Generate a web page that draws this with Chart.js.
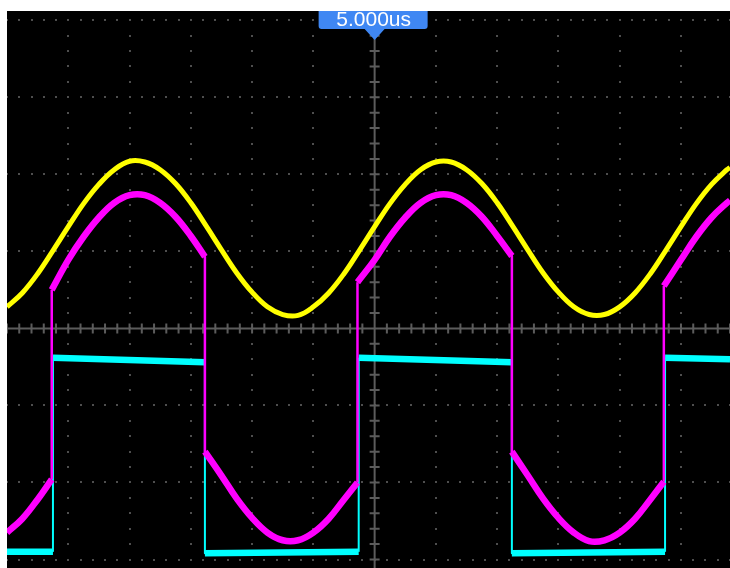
<!DOCTYPE html>
<html><head><meta charset="utf-8">
<script src="https://cdn.jsdelivr.net/npm/chart.js@4.4.1/dist/chart.umd.min.js"></script>
<style>html,body{margin:0;padding:0;background:#fff;}#wrap{width:730px;height:568px;position:relative;}</style>
</head><body><div id="wrap"><canvas id="c" width="730" height="568"></canvas></div>
<script>
// time axis in divisions (0 = trigger / centre line)
const timeDiv = [-6,-5.75,-5.5,-5.25,-5,-4.75,-4.5,-4.25,-4,-3.75,-3.5,-3.25,-3,-2.75,-2.5,-2.25,-2,-1.75,-1.5,-1.25,-1,-0.75,-0.5,-0.25,0,0.25,0.5,0.75,1,1.25,1.5,1.75,2,2.25,2.5,2.75,3,3.25,3.5,3.75,4,4.25,4.5,4.75,5,5.25,5.5,5.75,5.8];
// CH1 (yellow) in vertical divisions
const ch1Yellow = [0.28,0.46,0.71,1.01,1.32,1.62,1.87,2.06,2.17,2.16,2.06,1.88,1.63,1.33,1.02,0.72,0.47,0.28,0.18,0.17,0.28,0.46,0.71,1.01,1.32,1.62,1.87,2.06,2.16,2.16,2.06,1.88,1.63,1.33,1.02,0.72,0.47,0.28,0.18,0.18,0.28,0.46,0.71,1.01,1.32,1.62,1.87,2.06,2.09];
// CH2 (magenta): repeated x = vertical switching edge
const ch2MagentaX = [-6,-5.75,-5.5,-5.27,-5.27,-5,-4.75,-4.5,-4.25,-4,-3.75,-3.5,-3.25,-3,-2.77,-2.77,-2.5,-2.25,-2,-1.75,-1.5,-1.25,-1,-0.75,-0.5,-0.28,-0.28,0,0.25,0.5,0.75,1,1.25,1.5,1.75,2,2.24,2.24,2.5,2.75,3,3.25,3.5,3.75,4,4.25,4.5,4.72,4.72,5,5.25,5.5,5.75,5.8];
const ch2MagentaY = [-2.65,-2.47,-2.22,-1.96,0.50,0.89,1.19,1.44,1.63,1.73,1.73,1.63,1.45,1.20,0.93,-1.60,-1.91,-2.21,-2.46,-2.65,-2.75,-2.75,-2.65,-2.47,-2.22,-2.00,0.60,0.89,1.19,1.44,1.63,1.73,1.73,1.63,1.45,1.20,0.94,-1.60,-1.91,-2.21,-2.46,-2.65,-2.76,-2.75,-2.65,-2.47,-2.22,-1.99,0.55,0.89,1.19,1.44,1.63,1.66];
// CH3 (cyan) square wave
const ch3CyanX = [-6,-5.25,-5.25,-2.77,-2.77,-0.26,-0.26,2.24,2.24,4.74,4.74,5.8];
const ch3CyanY = [-2.90,-2.90,-0.38,-0.44,-2.92,-2.90,-0.38,-0.44,-2.92,-2.90,-0.38,-0.40];
const triggerLabel = '5.000us';
const xRange = [-6, 5.8];
const yRange = [-3.11, 4.12];

function splitTrace(xs, ys) {
  const smooth = [], edges = [];
  let cur = [{x: xs[0], y: ys[0]}];
  for (let i = 1; i < xs.length; i++) {
    if (xs[i] === xs[i - 1]) {
      smooth.push(cur);
      edges.push([{x: xs[i - 1], y: ys[i - 1]}, {x: xs[i], y: ys[i]}]);
      cur = [{x: xs[i], y: ys[i]}];
    } else cur.push({x: xs[i], y: ys[i]});
  }
  smooth.push(cur);
  return {smooth, edges};
}
const YEL = '#ffff00', MAG = '#ff00ff', CYA = '#00ffff';
const base = {pointRadius: 0, fill: false, clip: 0, borderCapStyle: 'butt', borderJoinStyle: 'round'};
const datasets = [];
datasets.push(Object.assign({}, base, {label: 'CH1', data: timeDiv.map((t, i) => ({x: t, y: ch1Yellow[i]})), borderColor: YEL, borderWidth: 5, tension: 0.4}));
const mag = splitTrace(ch2MagentaX, ch2MagentaY);
mag.smooth.forEach(s => datasets.push(Object.assign({}, base, {label: 'CH2', data: s, borderColor: MAG, borderWidth: 6.5, tension: 0.4})));
mag.edges.forEach(s => datasets.push(Object.assign({}, base, {label: 'CH2', data: s, borderColor: MAG, borderWidth: 2.5, tension: 0})));
const cya = splitTrace(ch3CyanX, ch3CyanY);
cya.smooth.forEach(s => datasets.push(Object.assign({}, base, {label: 'CH3', data: s, borderColor: CYA, borderWidth: 6.5, tension: 0})));
cya.edges.forEach(s => datasets.push(Object.assign({}, base, {label: 'CH3', data: s, borderColor: CYA, borderWidth: 2, tension: 0})));

const scopeGrid = {
  id: 'scopeGrid',
  beforeDatasetsDraw(chart) {
    const {ctx, chartArea: a, scales: {x, y}} = chart;
    ctx.save();
    ctx.fillStyle = '#000';
    ctx.fillRect(a.left, a.top, a.right - a.left, a.bottom - a.top);
    ctx.beginPath(); ctx.rect(a.left, a.top, a.right - a.left, a.bottom - a.top); ctx.clip();
    ctx.fillStyle = '#4e4e4e';
    for (let gy = -3; gy <= 4; gy++) {
      if (gy === 0) continue;
      const py = Math.round(y.getPixelForValue(gy));
      for (let k = -30; k <= 30; k++) {
        const px = Math.round(x.getPixelForValue(k / 5));
        ctx.fillRect(px - 1, py - 1, 2, 2);
      }
    }
    for (let gx = -5; gx <= 5; gx++) {
      if (gx === 0) continue;
      const px = Math.round(x.getPixelForValue(gx));
      for (let k = -16; k <= 21; k++) {
        const py = Math.round(y.getPixelForValue(k / 5));
        ctx.fillRect(px - 1, py - 1, 2, 2);
      }
    }
    const x0 = x.getPixelForValue(0), y0 = y.getPixelForValue(0);
    ctx.strokeStyle = '#5c5c5c';
    ctx.lineWidth = 2;
    ctx.beginPath();
    ctx.moveTo(a.left, y0); ctx.lineTo(a.right, y0);
    ctx.moveTo(x0, a.top); ctx.lineTo(x0, a.bottom);
    for (let k = -30; k <= 30; k++) {
      const px = x.getPixelForValue(k / 5);
      ctx.moveTo(px, y0 - 5); ctx.lineTo(px, y0 + 5);
    }
    for (let k = -16; k <= 21; k++) {
      const py = y.getPixelForValue(k / 5);
      ctx.moveTo(x0 - 5, py); ctx.lineTo(x0 + 5, py);
    }
    ctx.stroke();
    ctx.restore();
  },
  afterDatasetsDraw(chart) {
    const {ctx, chartArea: a, scales: {x}} = chart;
    const x0 = x.getPixelForValue(0);
    const l = x0 - 56, r = x0 + 53, t = a.top, b = a.top + 18, rad = 3;
    ctx.save();
    ctx.fillStyle = '#3f87f3';
    ctx.beginPath();
    ctx.moveTo(l, t); ctx.lineTo(r, t); ctx.lineTo(r, b - rad);
    ctx.quadraticCurveTo(r, b, r - rad, b);
    ctx.lineTo(x0 + 10, b); ctx.lineTo(x0, b + 11); ctx.lineTo(x0 - 10, b);
    ctx.lineTo(l + rad, b); ctx.quadraticCurveTo(l, b, l, b - rad);
    ctx.closePath(); ctx.fill();
    ctx.fillStyle = '#ffffff';
    ctx.font = '21px "Liberation Sans"';
    ctx.textAlign = 'center'; ctx.textBaseline = 'middle';
    ctx.fillText(triggerLabel, x0 - 1, t + 9);
    ctx.restore();
  }
};

new Chart(document.getElementById('c'), {
  type: 'line',
  data: {datasets},
  options: {
    responsive: false, animation: false, events: [],
    layout: {padding: {left: 7, top: 11, right: 0, bottom: 0}},
    plugins: {legend: {display: false}, tooltip: {enabled: false}},
    scales: {
      x: {type: 'linear', min: xRange[0], max: xRange[1], display: false},
      y: {type: 'linear', min: yRange[0], max: yRange[1], display: false}
    }
  },
  plugins: [scopeGrid]
});
</script></body></html>
